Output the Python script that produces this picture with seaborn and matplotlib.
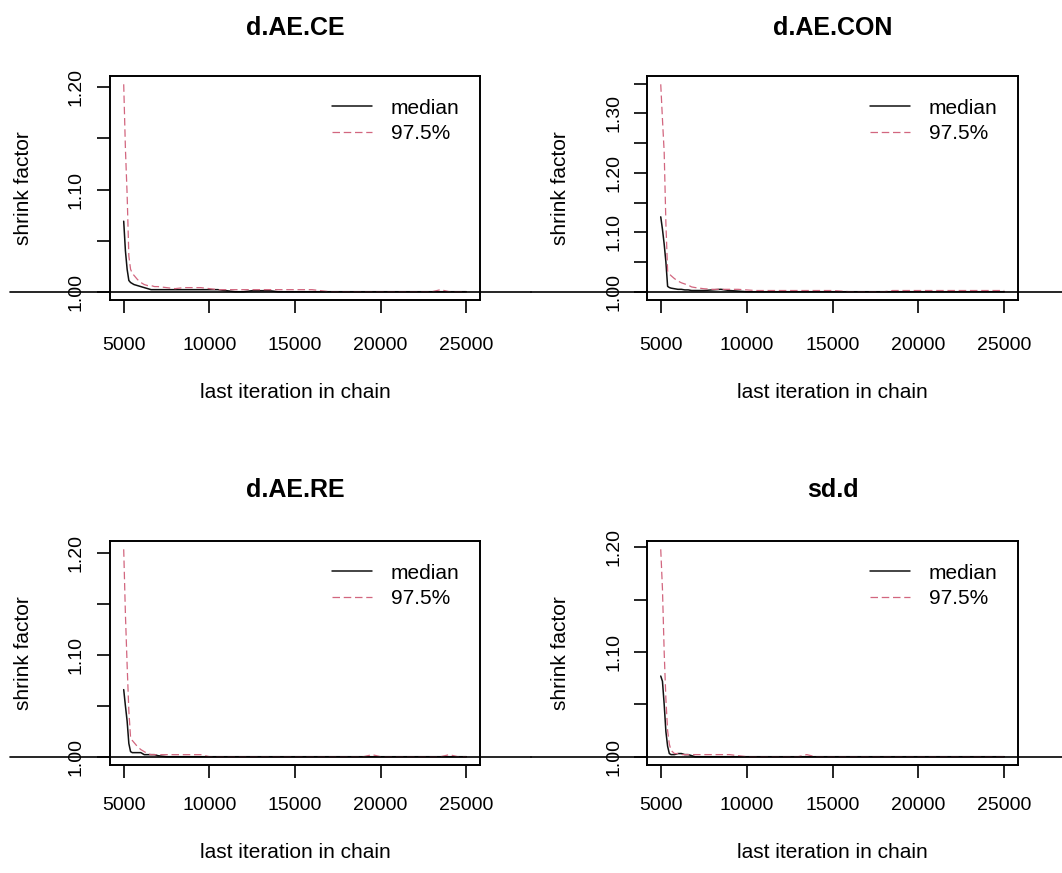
import numpy as np
import pandas as pd
import matplotlib
matplotlib.use("Agg")
import matplotlib.pyplot as plt
import seaborn as sns
from matplotlib.ticker import FixedLocator, FuncFormatter

# ---------------- data ----------------
iterations = [5000, 5100, 5200, 5300, 5400, 5500, 5600, 5800, 6000, 6200, 6400, 6600, 6800, 7000,
              7500, 8000, 8500, 9000, 9500, 10000, 10500, 11000, 11500, 12000, 12500, 13000, 13500, 14000,
              14500, 15000, 15500, 16000, 16500, 17000, 17500, 18000, 18500, 19000, 19500, 20000,
              20500, 21000, 21500, 22000, 22500, 23000, 23500, 24000, 24500, 25000]

params = ["d.AE.CE", "d.AE.CON", "d.AE.RE", "sd.d"]
stats = ["median", "97.5%"]

ce_median = [1.069, 1.040, 1.022, 1.011, 1.009, 1.008, 1.007, 1.006, 1.005, 1.004, 1.003, 1.002, 1.002, 1.002,
             1.002, 1.002, 1.002, 1.002, 1.002, 1.002, 1.002, 1.001, 1.000, 1.000, 1.001, 1.001, 1.001, 1.000,
             1.000, 1.000, 1.000, 1.000, 1.000, 1.000, 1.000, 1.000, 1.000, 1.000, 1.000, 1.000,
             1.000, 1.000, 1.000, 1.000, 1.000, 1.000, 1.000, 1.000, 1.000, 1.000]
ce_upper = [1.203, 1.140, 1.095, 1.035, 1.022, 1.018, 1.016, 1.012, 1.009, 1.007, 1.006, 1.006, 1.005, 1.005,
            1.004, 1.003, 1.004, 1.004, 1.004, 1.003, 1.002, 1.002, 1.002, 1.002, 1.002, 1.002, 1.002, 1.002,
            1.002, 1.002, 1.002, 1.002, 1.001, 1.000, 1.000, 1.000, 1.000, 1.000, 1.000, 1.000,
            1.000, 1.000, 1.000, 1.000, 1.000, 1.000, 1.002, 1.000, 1.000, 1.000]

con_median = [1.126, 1.105, 1.080, 1.050, 1.009, 1.007, 1.006, 1.005, 1.004, 1.004, 1.003, 1.003, 1.002, 1.002,
              1.002, 1.003, 1.004, 1.002, 1.001, 1.000, 1.000, 1.000, 1.000, 1.000, 1.000, 1.000, 1.000, 1.000,
              1.000, 1.000, 1.000, 1.000, 1.000, 1.000, 1.000, 1.000, 1.000, 1.000, 1.000, 1.000,
              1.000, 1.000, 1.000, 1.000, 1.000, 1.000, 1.000, 1.000, 1.000, 1.000]
con_upper = [1.349, 1.290, 1.235, 1.115, 1.035, 1.030, 1.027, 1.022, 1.018, 1.015, 1.013, 1.011, 1.008, 1.007,
             1.005, 1.004, 1.004, 1.004, 1.004, 1.003, 1.002, 1.002, 1.002, 1.002, 1.002, 1.002, 1.002, 1.002,
             1.002, 1.002, 1.001, 1.000, 1.000, 1.000, 1.000, 1.000, 1.002, 1.002, 1.002, 1.002,
             1.002, 1.002, 1.002, 1.002, 1.002, 1.002, 1.002, 1.002, 1.002, 1.002]

re_median = [1.066, 1.050, 1.035, 1.013, 1.005, 1.004, 1.004, 1.004, 1.004, 1.002, 1.002, 1.002, 1.002, 1.001,
             1.000, 1.000, 1.000, 1.000, 1.000, 1.000, 1.000, 1.000, 1.000, 1.000, 1.000, 1.000, 1.000, 1.000,
             1.000, 1.000, 1.000, 1.000, 1.000, 1.000, 1.000, 1.000, 1.000, 1.000, 1.000, 1.000,
             1.000, 1.000, 1.000, 1.000, 1.000, 1.000, 1.000, 1.000, 1.000, 1.000]
re_upper = [1.204, 1.140, 1.090, 1.045, 1.019, 1.016, 1.014, 1.010, 1.007, 1.005, 1.003, 1.002, 1.002, 1.002,
            1.002, 1.002, 1.002, 1.002, 1.002, 1.000, 1.000, 1.000, 1.000, 1.000, 1.000, 1.000, 1.000, 1.000,
            1.000, 1.000, 1.000, 1.000, 1.000, 1.000, 1.000, 1.000, 1.000, 1.000, 1.002, 1.000,
            1.000, 1.000, 1.000, 1.000, 1.000, 1.000, 1.000, 1.002, 1.000, 1.000]

sd_median = [1.077, 1.072, 1.050, 1.024, 1.010, 1.003, 1.002, 1.002, 1.003, 1.003, 1.002, 1.002, 1.001, 1.000,
             1.000, 1.000, 1.000, 1.000, 1.000, 1.000, 1.000, 1.000, 1.000, 1.000, 1.000, 1.000, 1.000, 1.000,
             1.000, 1.000, 1.000, 1.000, 1.000, 1.000, 1.000, 1.000, 1.000, 1.000, 1.000, 1.000,
             1.000, 1.000, 1.000, 1.000, 1.000, 1.000, 1.000, 1.000, 1.000, 1.000]
sd_upper = [1.198, 1.160, 1.100, 1.055, 1.025, 1.012, 1.006, 1.003, 1.003, 1.002, 1.002, 1.002, 1.002, 1.002,
            1.002, 1.002, 1.002, 1.002, 1.001, 1.000, 1.000, 1.000, 1.000, 1.000, 1.000, 1.000, 1.002, 1.000,
            1.000, 1.000, 1.000, 1.000, 1.000, 1.000, 1.000, 1.000, 1.000, 1.000, 1.000, 1.000,
            1.000, 1.000, 1.000, 1.000, 1.000, 1.000, 1.000, 1.000, 1.000, 1.000]

x_ticks = [5000, 10000, 15000, 20000, 25000]
x_label = "last iteration in chain"
y_label = "shrink factor"

series = {
    "d.AE.CE": (ce_median, ce_upper),
    "d.AE.CON": (con_median, con_upper),
    "d.AE.RE": (re_median, re_upper),
    "sd.d": (sd_median, sd_upper),
}

# ---------------- style ----------------
sns.set_theme(style="white")
plt.rcParams["font.family"] = ["Liberation Sans", "DejaVu Sans"]
plt.rcParams["text.color"] = "black"
plt.rcParams["axes.labelcolor"] = "black"
plt.rcParams["xtick.color"] = "black"
plt.rcParams["ytick.color"] = "black"
plt.rcParams["axes.edgecolor"] = "black"

W, H = 1062, 873
fig = plt.figure(figsize=(W / 100, H / 100), dpi=100)

PX = 0.72  # points per pixel at 100 dpi
cols = [(110, 480, (10, 531)), (647, 1018, (531, 1062))]
rows = [dict(top=76, bottom=300, title_pad=41, xtick_pad=24, xlabel_c=393),
        dict(top=541, bottom=765, title_pad=44, xtick_pad=19, xlabel_c=853)]

palette = {"median": "#111111", "97.5%": "#D2667F"}
dashes = {"median": "", "97.5%": (6, 3)}

for i, name in enumerate(params):
    r = rows[i // 2]
    left, right, (fx0, fx1) = cols[i % 2]
    top, bottom = r["top"], r["bottom"]
    ax = fig.add_axes([left / W, (H - bottom) / H, (right - left) / W, (bottom - top) / H])

    med, upp = series[name]
    df = pd.DataFrame({
        x_label: iterations * 2,
        y_label: list(med) + list(upp),
        "stat": [stats[0]] * len(iterations) + [stats[1]] * len(iterations),
    })
    sns.lineplot(data=df, x=x_label, y=y_label, hue="stat", style="stat",
                 palette=palette, dashes=dashes, estimator=None, sort=False,
                 legend=False, ax=ax, linewidth=1.1)
    l_med, l_upp = ax.lines[0], ax.lines[1]
    l_upp.set_linewidth(0.9)

    # R-like limits: xlim and ylim extended by 4 %
    xmin, xmax = min(iterations), max(iterations)
    xr = xmax - xmin
    ax.set_xlim(xmin - 0.04 * xr, xmax + 0.04 * xr)
    ymax = max(max(med), max(upp))
    yr = ymax - 1.0
    ax.set_ylim(1.0 - 0.04 * yr, ymax + 0.04 * yr)

    # reference line at 1 spanning the figure region of the panel
    w = right - left
    ax.axhline(1.0, xmin=(fx0 - left) / w, xmax=(fx1 - left) / w, color="black",
               lw=1.2, clip_on=False, zorder=5)

    # ticks
    ax.xaxis.set_major_locator(FixedLocator(x_ticks))
    ax.xaxis.set_major_formatter(FuncFormatter(lambda v, p: f"{int(round(v))}"))
    lo, hi = ax.get_ylim()
    yt = [round(k * 0.05, 2) for k in range(int(np.ceil(lo / 0.05 - 1e-9)), int(np.floor(hi / 0.05 + 1e-9)) + 1)]
    ax.yaxis.set_major_locator(FixedLocator(yt))
    ax.yaxis.set_major_formatter(FuncFormatter(
        lambda v, p: f"{v:.2f}" if abs(round(v * 10) - v * 10) < 1e-6 else ""))
    ax.tick_params(axis="both", which="major", direction="out", length=13 * PX, width=1.2,
                   color="black", bottom=True, left=True, top=False, right=False)
    ax.tick_params(axis="x", labelsize=14, pad=r["xtick_pad"] * PX)
    ax.tick_params(axis="y", labelsize=14, pad=12 * PX, labelrotation=90)
    for lbl in ax.get_yticklabels():
        lbl.set_va("center")
    ax.grid(False)

    for sp in ax.spines.values():
        sp.set_visible(True)
        sp.set_color("black")
        sp.set_linewidth(1.4)

    # labels
    ax.set_xlabel(x_label, fontsize=15)
    ax.set_ylabel(y_label, fontsize=15)
    h = bottom - top
    ax.xaxis.set_label_coords(0.5, (bottom - r["xlabel_c"]) / h)
    ax.xaxis.label.set_va("center")
    ax.yaxis.set_label_coords((24 - 110) / 370, 0.5)
    ax.yaxis.label.set_va("center")
    ax.set_title(name, fontsize=18, fontweight="bold", pad=r["title_pad"] * PX)

    # legend (top right, no box)
    ax.legend([l_med, l_upp], stats, loc="upper left",
              bbox_to_anchor=((right - 148 - left) / w, 1 - 22.7 / h),
              frameon=False, fontsize=15, handlelength=1.92, handletextpad=0.9,
              labelspacing=0.3, borderpad=0, borderaxespad=0)

fig.savefig("out.png", dpi=100)
